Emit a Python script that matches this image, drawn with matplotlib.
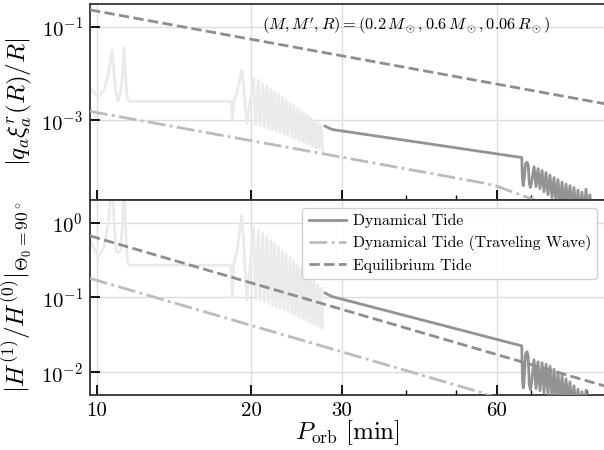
import numpy as np
import matplotlib
matplotlib.use("Agg")
import matplotlib.pyplot as plt
from matplotlib.ticker import FixedLocator, FixedFormatter, LogLocator, NullFormatter, NullLocator, LogFormatterSciNotation

plt.rcParams['font.family'] = 'serif'
plt.rcParams['font.serif'] = ['cmr10']
plt.rcParams['mathtext.fontset'] = 'cm'
plt.rcParams['axes.unicode_minus'] = False
plt.rcParams['axes.formatter.use_mathtext'] = True

# ---------------- data ----------------
# Equilibrium tide (power law, endpoints)
P_eq = [9.7, 97.5]
eq_top = [0.228, 2.26e-3]
eq_bot = [0.664, 6.57e-3]

# Dynamical tide, traveling-wave approximation
P_tw = [9.7, 56, 60, 64, 70, 78]
tw_top = [1.56e-3, 4.7e-5, 3.95e-5, 3.05e-5, 2.13e-5, 1.4e-5]
tw_bot = [0.18, 5.4e-3, 4.6e-3, 3.6e-3, 2.5e-3, 1.6e-3]

# Dynamical tide, full (light) curve: short-period part
P_light = [9.6, 9.73, 10.06, 10.33, 10.52, 10.71, 10.81, 10.90, 11.0, 11.12, 11.22,
           11.30, 11.37, 11.45, 11.53, 18.25, 18.36, 18.46, 18.75, 18.96, 19.13, 19.30, 19.58]
light_top = [5.6e-3, 4.79e-3, 3.16e-3, 4.4e-3, 9.2e-3, 0.0316, 9.2e-3, 3.98e-3, 2.55e-3, 3.98e-3,
             9.2e-3, 0.0349, 9.2e-3, 3.43e-3, 2.55e-3, 2.55e-3, 9.5e-4, 2.55e-3, 3.98e-3, 7.2e-3,
             0.0118, 5.62e-3, 8.6e-4]
light_bot = [0.62, 0.56, 0.345, 0.47, 0.97, 3.3, 0.97, 0.42, 0.40, 0.42, 0.97, 3.7, 0.97, 0.36,
             0.27, 0.27, 0.1025, 0.27, 0.42, 0.76, 1.25, 0.6, 0.0926]

# Resonance comb (light curve), peaks and troughs
P_comb_peak = [20.19, 20.63, 21.04, 21.42, 21.81, 22.16, 22.56, 22.97, 23.35, 23.78, 24.17,
               24.57, 24.98, 25.35, 25.74, 26.12, 26.51, 26.92, 27.32]
P_comb_trough = [20.37, 20.78, 21.20, 21.58, 21.97, 22.33, 22.73, 23.14, 23.53, 23.96, 24.35,
                 24.75, 25.17, 25.54, 25.93, 26.32, 26.71, 27.12, 27.53]
comb_peak_top = [7.9e-3, 7.2e-3, 6.12e-3, 5.36e-3, 4.55e-3, 4.04e-3, 3.56e-3, 3.07e-3, 2.68e-3,
                 2.35e-3, 2.03e-3, 1.78e-3, 1.58e-3, 1.39e-3, 1.24e-3, 1.09e-3, 1.0e-3, 8.75e-4, 7.81e-4]
comb_trough_top = [8.2e-4, 7.8e-4, 7.26e-4, 6.77e-4, 6.29e-4, 5.84e-4, 5.42e-4, 5.06e-4, 4.70e-4,
                   4.36e-4, 4.07e-4, 3.78e-4, 3.51e-4, 3.28e-4, 3.04e-4, 2.83e-4, 2.62e-4, 2.45e-4, 2.28e-4]
comb_peak_bot = [0.86, 0.790, 0.712, 0.640, 0.576, 0.519, 0.468, 0.420, 0.379, 0.341, 0.307,
                 0.276, 0.249, 0.224, 0.2016, 0.1817, 0.1637, 0.1471, 0.1325]
comb_trough_bot = [0.095, 0.0926, 0.0879, 0.0837, 0.0795, 0.0754, 0.0718, 0.0682, 0.0648, 0.0617,
                   0.0585, 0.0555, 0.0529, 0.0502, 0.0477, 0.0454, 0.0431, 0.0410, 0.0390]

# Dynamical tide (valid regime, dark)
P_dyn = [27.81, 28.66, 67.13, 67.35, 67.6, 67.85, 68.3, 68.74, 69.1, 69.45, 69.8, 70.2]
dyn_top = [7.55e-4, 6.41e-4, 1.61e-4, 5.5e-5, 4.05e-5, 5.5e-5, 1.2e-4, 1.28e-4, 1.1e-4, 4.5e-5, 3.72e-5, 5e-5]
dyn_bot = [0.1148, 0.1031, 0.02265, 8e-3, 6.2e-3, 8e-3, 0.0175, 0.019, 0.016, 7e-3, 5.89e-3, 7.5e-3]

P_osc_peak = [70.93, 72.21, 73.52, 74.84, 76.19, 77.57, 78.97, 80.40, 81.86, 83.32, 84.83,
              86.37, 87.93, 89.54, 91.14]
P_osc_trough = [71.57, 72.86, 74.18, 75.51, 76.88, 78.27, 79.68, 81.12, 82.60, 84.07, 85.60,
                87.15, 88.72, 90.35, 91.98]
osc_peak_top = [1.03e-4, 9.35e-5, 8.48e-5, 7.68e-5, 6.79e-5, 6.0e-5, 5.43e-5, 4.81e-5, 4.36e-5,
                4.05e-5, 3.66e-5, 3.24e-5, 2.93e-5, 3.40e-5, 2.59e-5]
osc_trough_top = [3.85e-5, 3.5e-5, 3.0e-5, 2.6e-5, 2.25e-5, 1.7e-5, 1.6e-5, 1.5e-5, 1.4e-5,
                  1.3e-5, 1.2e-5, 1.1e-5, 1.0e-5, 9.5e-6, 5e-6]
osc_peak_bot = [0.01475, 0.01388, 0.01346, 0.01285, 0.01209, 0.01103, 0.01006, 9.04e-3, 8.24e-3,
                7.52e-3, 6.65e-3, 5.98e-3, 5.54e-3, 5.8e-3, 4.9e-3]
osc_trough_bot = [6.07e-3, 5.71e-3, 5.37e-3, 5.13e-3, 4.6e-3, 4.4e-3, 4.2e-3, 4.0e-3, 3.8e-3,
                  3.6e-3, 3.4e-3, 3.2e-3, 3.0e-3, 2.8e-3, 2.0e-3]

x_ticks = [10, 20, 30, 60]
x_ticklabels = ['10', '20', '30', '60']
top_yticks = [1e-5, 1e-3, 1e-1]
bot_yticks = [1e-2, 1e-1, 1e0]

# ---------------- assemble curves ----------------
def interleave(a, b):
    out = []
    for u, v in zip(a, b):
        out += [u, v]
    return out

light_P_all = P_light + interleave(P_comb_peak, P_comb_trough)
light_top_all = light_top + interleave(comb_peak_top, comb_trough_top)
light_bot_all = light_bot + interleave(comb_peak_bot, comb_trough_bot)
dyn_P_all = P_dyn + interleave(P_osc_peak, P_osc_trough)
dyn_top_all = dyn_top + interleave(osc_peak_top, osc_trough_top)
dyn_bot_all = dyn_bot + interleave(osc_peak_bot, osc_trough_bot)

# ---------------- figure ----------------
fig = plt.figure(figsize=(6.04, 4.5), dpi=100)
left, right = 0.149, 1.0017
ax1 = fig.add_axes([left, 0.5556, right - left, 0.9904 - 0.5556])
ax2 = fig.add_axes([left, 0.1222, right - left, 0.5556 - 0.1222])

c_light = '#eaeaea'
c_dyn = '#939393'
c_tw = '#bcbcbc'
c_eq = '#8e8e8e'
lw = 2.0

for ax, lt, dt, tw, eq in [(ax1, light_top_all, dyn_top_all, tw_top, eq_top),
                           (ax2, light_bot_all, dyn_bot_all, tw_bot, eq_bot)]:
    ax.plot(light_P_all, lt, color=c_light, lw=lw, zorder=2)
    ax.plot(dyn_P_all, dt, color=c_dyn, lw=lw, zorder=3, label='Dynamical Tide')
    ax.plot(P_tw, tw, color=c_tw, lw=lw, ls='-.', zorder=3, label='Dynamical Tide (Traveling Wave)')
    ax.plot(P_eq, eq, color=c_eq, lw=lw, ls='--', zorder=3, label='Equilibrium Tide')
    ax.set_xscale('log')
    ax.set_yscale('log')
    ax.set_xlim(9.7, 97.5)
    ax.xaxis.set_major_locator(FixedLocator(x_ticks))
    ax.xaxis.set_major_formatter(FixedFormatter(x_ticklabels))
    ax.xaxis.set_minor_locator(LogLocator(base=10, subs=np.arange(2, 10)))
    ax.xaxis.set_minor_formatter(NullFormatter())
    ax.yaxis.set_minor_locator(NullLocator())
    ax.grid(True, which='major', color='#dddddd', lw=1.0)
    ax.set_axisbelow(True)
    ax.tick_params(which='major', direction='in', length=7, width=1.3, labelsize=15, pad=5)
    ax.tick_params(which='minor', direction='in', length=3.5, width=1.0)
    for s in ax.spines.values():
        s.set_linewidth(1.3)
        s.set_color('#333333')

ax1.set_ylim(2e-5, 0.3)
ax1.yaxis.set_major_locator(FixedLocator(top_yticks))
ax1.yaxis.set_major_formatter(LogFormatterSciNotation())
ax1.tick_params(labelbottom=False)
ax2.set_ylim(5e-3, 2.0)
ax2.yaxis.set_major_locator(FixedLocator(bot_yticks))
ax2.yaxis.set_major_formatter(LogFormatterSciNotation())

ax1.set_ylabel(r'$|q_a\xi^r_a(R)/R|$', fontsize=18)
ax1.yaxis.set_label_coords(-0.108, 0.5)
ax2.set_ylabel(r'$|H^{(1)}/H^{(0)}|_{\Theta_0=90^\circ}$', fontsize=18)
ax2.yaxis.set_label_coords(-0.108, 0.5)
ax2.set_xlabel(r'$P_{\rm orb}\ [{\rm min}]$', fontsize=18, labelpad=-1)

ax1.text(0.894, 0.89, r"$(M, M', R) = (0.2\,M_\odot, 0.6\,M_\odot, 0.06\,R_\odot)$",
         transform=ax1.transAxes, ha='right', va='center', fontsize=11.8)

ax2.legend(loc='upper right', fontsize=11.3, frameon=True, fancybox=True, edgecolor='#cccccc',
           framealpha=0.9, handlelength=2.35, borderaxespad=0.5, labelspacing=0.45,
           borderpad=0.4, handletextpad=0.45)

fig.savefig('out.png', dpi=100)
